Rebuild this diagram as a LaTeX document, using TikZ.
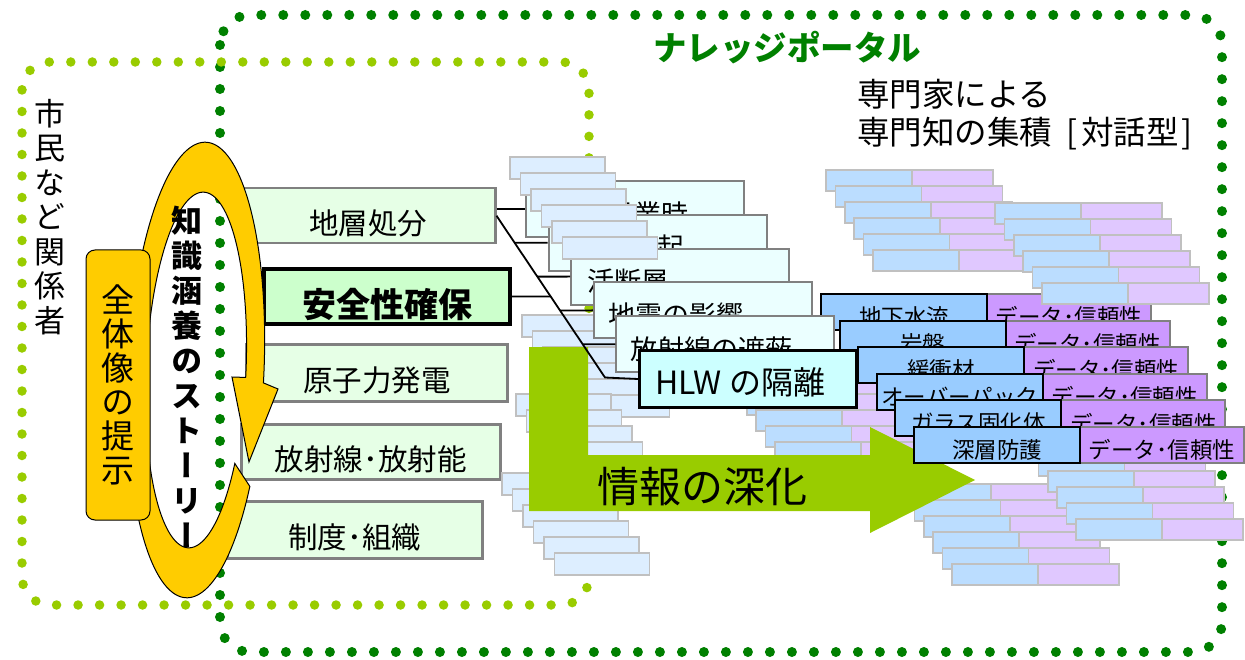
\documentclass[tikz,border=0pt]{standalone}
\usepackage{fontspec}
\setmainfont{Noto Sans CJK JP}
\newfontfamily\vjp[RawFeature=+vert]{Noto Sans CJK JP}
\usetikzlibrary{calc}
\definecolor{lgdot}{HTML}{99CC00}
\definecolor{dgdot}{HTML}{008000}
\definecolor{gold}{HTML}{FFCC00}
\definecolor{lbfill}{HTML}{E6FFE6}
\definecolor{ssfill}{HTML}{CCFFCC}
\definecolor{bxgray}{HTML}{808080}
\definecolor{cyfill}{HTML}{EBFFFF}
\definecolor{hlwfill}{HTML}{CCFFFF}
\definecolor{stfill}{HTML}{DDEEFF}
\definecolor{stgray}{HTML}{C0C0C0}
\definecolor{rblue}{HTML}{BBDDFF}
\definecolor{rpurp}{HTML}{E0C8FF}
\definecolor{fblue}{HTML}{99CCFF}
\definecolor{fpurp}{HTML}{CC99FF}
\tikzset{
  dotdark/.style={draw=dgdot, line width=10pt, line cap=round, dash pattern=on 0pt off 22pt},
  dotlight/.style={draw=lgdot, line width=9.5pt, line cap=round, dash pattern=on 0pt off 21.5pt},
  lbox/.style={draw=bxgray, line width=2.5pt, fill=lbfill, inner sep=0pt, anchor=north west},
  ltext/.style={font=\fontsize{29.5}{32}\selectfont, inner sep=0pt},
  cbox/.style={draw=bxgray, line width=2pt, fill=cyfill, inner sep=0pt, anchor=north west, minimum width=218, minimum height=56},
  ctext/.style={font=\fontsize{27}{30}\selectfont, inner sep=0pt, anchor=west},
  gst/.style={draw=stgray, line width=1.5pt, fill=stfill},
  rst/.style={draw=stgray, line width=1.5pt},
  fbbox/.style={draw=black, line width=2pt, fill=fblue, inner sep=0pt, anchor=north west, minimum width=166, minimum height=36},
  fpbox/.style={draw=bxgray, line width=2pt, fill=fpurp, inner sep=0pt, anchor=north west, minimum width=164, minimum height=36},
  ftext/.style={font=\fontsize{22.5}{25}\selectfont, inner sep=0pt},
  conn/.style={draw=black, line width=1.8pt},
  vtext/.style={align=center, inner sep=0pt},
}
\newcommand\mygstack[2]{%
  \foreach \k in {0,...,5}{\draw[gst] ({#1+10.5*\k},{#2+16*\k}) rectangle ++(95,22);}}
\newcommand\myrstack[2]{%
  \foreach \k in {0,...,5}{%
    \draw[rst,fill=rblue] ({#1+9.4*\k},{#2+16*\k}) rectangle ++(86,21);
    \draw[rst,fill=rpurp] ({#1+9.4*\k+86},{#2+16*\k}) rectangle ++(81,21);}}
\begin{document}
\begin{tikzpicture}[x=1pt,y=-1pt]
\useasboundingbox (0,0) rectangle (1245,660);
\fill[white] (0,0) rectangle (1245,660);
% dotted frames
\draw[dotdark, rounded corners=30pt] (220,15) rectangle (1222,652);
\draw[dotlight, rounded corners=28pt] (22,62) rectangle (589,605);
% left vertical text
\node[vtext, font=\vjp\fontsize{31}{34.5}\selectfont] (shimin) at (50,217) {市\\民\\な\\ど\\関\\係\\者};
% left boxes
\node[lbox, minimum width=254, minimum height=55] (dsb) at (240,187) {};
\node[ltext] (dsbT) at ([yshift=-8pt]dsb.center) {地層処分};
\node[lbox, draw=black, line width=4pt, fill=ssfill, minimum width=246, minimum height=55] (ssk) at (262,267) {};
\node[ltext, font=\bfseries\fontsize{34}{36}\selectfont] (sskT) at ([yshift=-8pt]ssk.center) {安全性確保};
\node[lbox, minimum width=261, minimum height=57] (gsh) at (245,343) {};
\node[ltext] (gshT) at ([yshift=-8pt]gsh.center) {原子力発電};
\node[lbox, minimum width=259, minimum height=55] (hsn) at (240,423) {};
\node[ltext] (hsnT) at ([yshift=-8pt]hsn.center) {放射線･放射能};
\node[lbox, minimum width=255, minimum height=57] (sds) at (226,500) {};
\node[ltext] (sdsT) at ([yshift=-8pt]sds.center) {制度･組織};
% circular arrow
\filldraw[fill=gold, draw=black, line width=1pt]
  plot[domain=30:362.5, samples=160] ({196+68*cos(\x)*0.99905-228*sin(\x)*0.04362},{370+68*cos(\x)*0.04362+228*sin(\x)*0.99905})
  -- (278,389) -- (249,462) -- (232,377)
  -- plot[domain=361.7:31, samples=160] ({196+50*cos(\x)*0.99905-178*sin(\x)*0.04362},{370+50*cos(\x)*0.04362+178*sin(\x)*0.99905})
  -- cycle;
\node[vtext, draw=black, line width=1pt, fill=gold, rounded corners=9pt, minimum width=64, minimum height=270, font=\vjp\fontsize{33}{34}\selectfont] (zentai) at (118,385) {全\\体\\像\\の\\提\\示};
\node[vtext, font=\vjp\bfseries\fontsize{31}{35}\selectfont] (story) at (187,377) {知\\識\\涵\\養\\の\\ス\\ト\\ー\\リ\\ー};
% cascade, back part
\node[cbox] (ca) at (525,180) {};
\node[ctext] (caT) at ([xshift=15pt,yshift=-5pt]ca.west) {建設･操業時};
\node[cbox] (cb) at (547.6,213.8) {};
\node[ctext] (cbT) at ([xshift=15pt,yshift=-5pt]cb.west) {侵食･隆起};
\node[cbox] (cc) at (570.2,247.6) {};
\node[ctext] (ccT) at ([xshift=17pt,yshift=-5pt]cc.west) {活断層};
% light blue stacks
\mygstack{510}{157}
\mygstack{522}{315}
\mygstack{516}{394}
\mygstack{502}{473}
% blue / purple stacks
\myrstack{826}{170}
\myrstack{728}{362}
\myrstack{905}{484}
\myrstack{1029}{439}
% big arrow
\fill[lgdot] (529,347) -- (588,347) -- (588,455) -- (870,455) -- (870,427) -- (975,480) -- (870,533) -- (870,511) -- (529,511) -- cycle;
\node[inner sep=0pt, font=\fontsize{42}{46}\selectfont] (shinka) at (702,487) {情報の深化};
% front rows
\foreach \k/\lbl in {0/地下水流,1/岩盤,2/緩衝材,3/オーバーパック,4/ガラス固化体,5/深層防護}{
  \node[fpbox] (fp\k) at ({986+18.6*\k},{293+26.6*\k}) {};
  \node[ftext] (fpt\k) at ([yshift=-5pt]fp\k.center) {データ･信頼性};
  \node[fbbox] (fb\k) at ({820+18.6*\k},{293+26.6*\k}) {};
  \node[ftext] (fbt\k) at ([yshift=-5pt]fb\k.center) {\lbl};
}
\myrstack{995}{203}
% cascade, front part
\node[cbox] (cd) at (592.8,281.4) {};
\node[ctext] (cdT) at ([xshift=15pt,yshift=-5pt]cd.west) {地震の影響};
\node[cbox] (ce) at (615.4,315.2) {};
\node[ctext] (ceT) at ([xshift=15pt,yshift=-5pt]ce.west) {放射線の遮蔽};
\node[cbox, draw=black, line width=3pt, fill=hlwfill, minimum width=217, minimum height=57] (hlw) at (638,349) {};
\node[ctext, font=\fontsize{32}{34}\selectfont] (hlwT) at ([xshift=17pt,yshift=-3pt]hlw.west) {HLW の隔離};
% connectors
\coordinate (bend) at (605,377.5);
\draw[conn] (dsb.east |- ca.west) -- (ca.west);
\draw[conn] (dsb.east) -- (bend) -- (hlw.west);
\draw[conn] (intersection of dsb.east--bend and cb.west--cb.east) -- (cb.west);
\draw[conn] (intersection of dsb.east--bend and cc.west--cc.east) -- (cc.west);
\draw[conn] (intersection of dsb.east--bend and cd.west--cd.east) -- (cd.west);
\draw[conn] (intersection of dsb.east--bend and ce.west--ce.east) -- (ce.west);
\draw[conn] (ssk.east) -- (intersection of dsb.east--bend and ssk.west--ssk.east);
% titles
\node[anchor=west, inner sep=0pt, text=dgdot, font=\bfseries\fontsize{33.5}{36}\selectfont] (portal) at (653,48) {ナレッジポータル};
\node[anchor=north west, align=left, inner sep=0pt, font=\fontsize{32.5}{38}\selectfont] (senmon) at (857,79) {専門家による\\専門知の集積\hspace{0.45em}[\hspace{0.1em}対話型\hspace{0.1em}]};
\end{tikzpicture}
\end{document}
